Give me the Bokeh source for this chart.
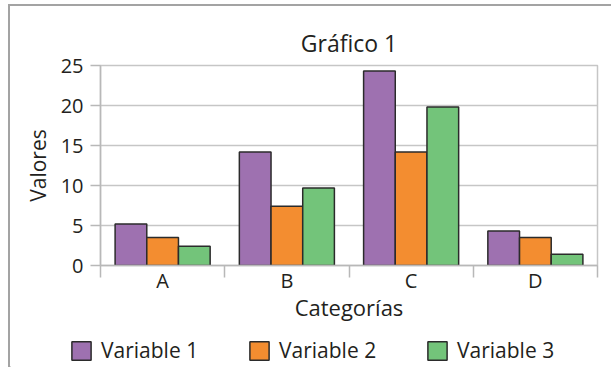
from bokeh.plotting import figure
from bokeh.layouts import column
from bokeh.models import (ColumnDataSource, Range1d, FixedTicker,
                          CustomJSTickFormatter, Legend, LegendItem)
from bokeh.transform import dodge
from bokeh.embed import file_html
from bokeh.resources import INLINE

categories = ["A", "B", "C", "D"]
variable_1 = [5.2, 14.2, 24.3, 4.3]
variable_2 = [3.5, 7.4, 14.2, 3.5]
variable_3 = [2.4, 9.7, 19.8, 1.4]
series_names = ["Variable 1", "Variable 2", "Variable 3"]
y_ticks = [0, 5, 10, 15, 20, 25]
title_text = "Gráfico 1"
x_label = "Categorías"
y_label = "Valores"

FONT = "Open Sans"
TXT = "#231f20"
GRID = "#c6c6c6"
AX = "#b8b8b8"
colors = ["#9e71b0", "#f38d30", "#73c47a"]

n = len(categories)
src = ColumnDataSource(dict(cat=categories, pos=[i + 0.5 for i in range(n)],
                            v1=variable_1, v2=variable_2, v3=variable_3))

W = 601
H1 = 318
H2 = 43

p = figure(width=W, height=H1, output_backend="svg", toolbar_location=None,
           x_range=Range1d(0, n), y_range=Range1d(0, 25),
           min_border_left=90, min_border_right=14, min_border_top=59, min_border_bottom=59,
           title=title_text)

p.title.align = "center"
p.title.text_font = FONT
p.title.text_font_size = "23px"
p.title.text_font_style = "normal"
p.title.text_color = TXT
p.title.standoff = 14

xaxis = p.xaxis[0]
xaxis.ticker = FixedTicker(ticks=[i + 0.5 for i in range(n)], minor_ticks=list(range(n + 1)))
xaxis.formatter = CustomJSTickFormatter(args=dict(cats=categories),
                                        code="return cats[Math.floor(tick)]")
xaxis.major_tick_out = 0
xaxis.major_tick_in = 0
xaxis.minor_tick_out = 12
xaxis.minor_tick_in = 0
xaxis.minor_tick_line_color = AX
xaxis.minor_tick_line_width = 1.5
xaxis.axis_line_color = AX
xaxis.axis_line_width = 1.5
xaxis.major_label_text_font = FONT
xaxis.major_label_text_font_size = "20px"
xaxis.major_label_text_color = TXT
xaxis.major_label_standoff = -11
xaxis.axis_label = x_label
xaxis.axis_label_text_font = FONT
xaxis.axis_label_text_font_size = "22px"
xaxis.axis_label_text_font_style = "normal"
xaxis.axis_label_text_color = TXT
xaxis.axis_label_standoff = -5

yaxis = p.yaxis[0]
yaxis.ticker = FixedTicker(ticks=y_ticks)
yaxis.major_tick_out = 10
yaxis.major_tick_in = 0
yaxis.minor_tick_out = 0
yaxis.minor_tick_in = 0
yaxis.major_tick_line_color = AX
yaxis.major_tick_line_width = 1.5
yaxis.axis_line_color = AX
yaxis.axis_line_width = 1.5
yaxis.major_label_text_font = FONT
yaxis.major_label_text_font_size = "20px"
yaxis.major_label_text_color = TXT
yaxis.major_label_standoff = 7
yaxis.axis_label = y_label
yaxis.axis_label_text_font = FONT
yaxis.axis_label_text_font_size = "21px"
yaxis.axis_label_text_font_style = "normal"
yaxis.axis_label_text_color = TXT
yaxis.axis_label_standoff = 6

p.xgrid.grid_line_color = None
p.ygrid.grid_line_color = GRID
p.ygrid.grid_line_width = 1.5
p.outline_line_color = GRID
p.outline_line_width = 1.5

w = 0.255
for i, (col, c) in enumerate(zip(["v1", "v2", "v3"], colors)):
    p.vbar(x=dodge("pos", (i - 1) * w), top=col, width=w, bottom=0,
           source=src, fill_color=c, line_color="#2b2b2b", line_width=1.5)

# legend strip (separate canvas so the legend is not clipped by the plot frame)
lg = figure(width=W, height=H2, output_backend="svg", toolbar_location=None,
            x_range=Range1d(0, 1), y_range=Range1d(0, 1),
            x_axis_location=None, y_axis_location=None,
            min_border=0, min_border_left=0, min_border_right=0,
            min_border_top=0, min_border_bottom=0)
lg.frame_align = False
lg.xgrid.grid_line_color = None
lg.ygrid.grid_line_color = None
lg.outline_line_color = None
# legend proxies: lie outside the strip's range, only their legend swatch shows
leg_renderers = []
for c in colors:
    leg_renderers.append(lg.vbar(x=[-10], top=[0], width=0.1, fill_color=c,
                                 line_color="#2b2b2b", line_width=1.5))

legend = Legend(items=[LegendItem(label=s, renderers=[r]) for s, r in zip(series_names, leg_renderers)],
                orientation="horizontal", location=(59, 3),
                glyph_width=24, glyph_height=23, label_standoff=8,
                label_width=140, spacing=6, padding=0, margin=0,
                border_line_color=None, background_fill_alpha=0,
                label_text_font=FONT, label_text_font_size="21px", label_text_color=TXT)
lg.add_layout(legend, "center")

layout = column(p, lg, spacing=0)
layout.margin = (4, 0, 0, 8)
layout.styles = {"border-left": "2px solid #a3a3a3", "border-top": "2px solid #a3a3a3"}

open("out.html", "w").write(file_html(layout, INLINE))
